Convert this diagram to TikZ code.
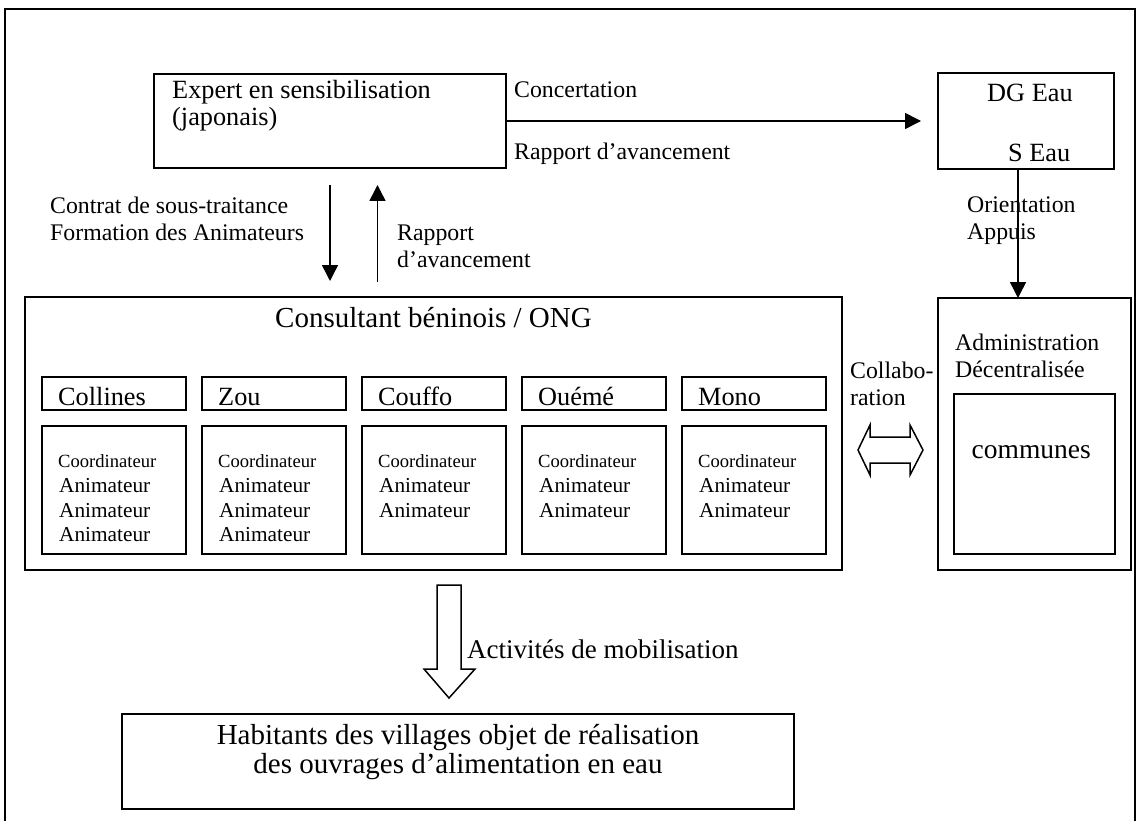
\documentclass[tikz,border=0pt]{standalone}
\usepackage{fontspec}
\setmainfont{Liberation Serif}
\usetikzlibrary{arrows.meta}
\newcommand\szBig{\fontsize{29pt}{34pt}\selectfont}
\newcommand\szReg{\fontsize{26.3pt}{30pt}\selectfont}
\newcommand\szLab{\fontsize{23.8pt}{28pt}\selectfont}
\newcommand\szAn{\fontsize{21.3pt}{25pt}\selectfont}
\newcommand\szCo{\fontsize{18.6pt}{22pt}\selectfont}
\newcommand\szCom{\fontsize{27.5pt}{32pt}\selectfont}
\newcommand\szAct{\fontsize{27pt}{32pt}\selectfont}
\begin{document}
\begin{tikzpicture}[x=1pt,y=-1pt,
  box/.style={draw, line width=1.8pt, inner sep=0pt, outer sep=0pt},
  lbl/.style={inner sep=0pt, anchor=base west},
  lblc/.style={inner sep=0pt, anchor=base},
  arr/.style={line width=1.5pt, -{Triangle[length=16pt,width=16pt]}},
  hollow/.style={draw, line width=1.5pt, line join=miter}]
\useasboundingbox (0,0) rectangle (1137,821);
% outer frame (open at bottom)
\draw[line width=1.8pt] (5,830) -- (5,9) -- (1135,9) -- (1135,830);

% top boxes
\node[box, minimum width=352pt, minimum height=94pt] (expert) at (330,121) {};
\node[lbl, font=\szReg] (expertA) at (172,99) {Expert en sensibilisation};
\node[lbl, font=\szReg] (expertB) at (172,126) {(japonais)};

\node[box, minimum width=176pt, minimum height=96pt] (dg) at (1026,121) {};
\node[lbl, font=\szReg] (dgA) at (987,102) {DG Eau};
\node[lbl, font=\szReg] (dgB) at (1008,162) {S Eau};

% concertation arrow
\coordinate (concEnd) at (921,121);
\draw[arr] (expert.east) -- (concEnd);
\node[lbl, font=\szLab] (conc) at (514,98) {Concertation};
\node[lbl, font=\szLab] (rappA) at (514,160) {Rapport d’avancement};

% vertical arrows expert <-> consultant
\coordinate (dnTop) at (330,185);
\coordinate (dnBot) at (330,281);
\coordinate (upBot) at (377.5,282);
\coordinate (upTop) at (377.5,185);
\draw[arr] (dnTop) -- (dnBot);
\draw[arr] (upBot) -- (upTop);
\node[lbl, font=\szLab] (contrat) at (50,213) {Contrat de sous-traitance};
\node[lbl, font=\szLab] (formation) at (50,240) {Formation des Animateurs};
\node[lbl, font=\szLab] (rappB) at (397,240) {Rapport};
\node[lbl, font=\szLab] (rappC) at (397,267) {d’avancement};

% consultant box
\node[box, minimum width=817pt, minimum height=273pt] (consult) at (433.5,433.5) {};
\node[lblc, font=\szBig] (consultT) at (433.5,327) {Consultant béninois / ONG};

% regions
\foreach \i/\nm/\n in {0/Collines/4, 1/Zou/4, 2/Couffo/3, 3/Ouémé/3, 4/Mono/3}{
  \pgfmathsetmacro\cx{114+160*\i}
  \pgfmathsetmacro\lx{58+160*\i}
  \node[box, minimum width=144pt, minimum height=33pt] (reg\i) at (\cx,393.5) {};
  \node[lbl, font=\szReg] (regname\i) at (\lx,405) {\nm};
  \node[box, minimum width=144pt, minimum height=128pt] (staff\i) at (\cx,490) {};
  \node[lbl, font=\szCo] (coord\i) at (\lx,467) {Coordinateur};
  \node[lbl, font=\szAn] (anA\i) at (\lx+1,492) {Animateur};
  \node[lbl, font=\szAn] (anB\i) at (\lx+1,517) {Animateur};
  \ifnum\n=4
    \node[lbl, font=\szAn] (anC\i) at (\lx+1,541) {Animateur};
  \fi
}

% administration
\node[box, minimum width=193pt, minimum height=272pt] (admin) at (1034.5,434) {};
\node[lbl, font=\szLab] (adminA) at (955,350) {Administration};
\node[lbl, font=\szLab] (adminB) at (955,377) {Décentralisée};
\node[box, minimum width=161pt, minimum height=160pt] (communes) at (1034.5,474) {};
\node[lbl, font=\szCom] (communesT) at (971.5,458) {communes};

% orientation arrow
\node[lbl, font=\szLab] (orient) at (967,212) {Orientation};
\node[lbl, font=\szLab] (appuis) at (967,239) {Appuis};
\coordinate (orTop) at (1018,169);
\draw[arr] (orTop) -- (admin.north -| orTop);

% collaboration
\node[lbl, font=\szLab] (collabA) at (850,378) {Collabo-};
\node[lbl, font=\szLab] (collabB) at (850,405) {ration};
\draw[hollow] (858,450) -- (870,425) -- (870,437) -- (910,437) -- (910,425)
  -- (923,450) -- (910,475) -- (910,463) -- (870,463) -- (870,475) -- cycle;

% mobilisation arrow
\draw[hollow] (437,585) -- (461,585) -- (461,669) -- (475,669) -- (449,698)
  -- (424,669) -- (437,669) -- cycle;
\node[lbl, font=\szAct] (activ) at (467,658) {Activités de mobilisation};

% habitants
\node[box, minimum width=672pt, minimum height=95pt] (habit) at (458,761.5) {};
\node[lblc, font=\szBig] (habitA) at (458,744) {Habitants des villages objet de réalisation};
\node[lblc, font=\szBig] (habitB) at (458,773) {des ouvrages d’alimentation en eau};
\end{tikzpicture}
\end{document}
